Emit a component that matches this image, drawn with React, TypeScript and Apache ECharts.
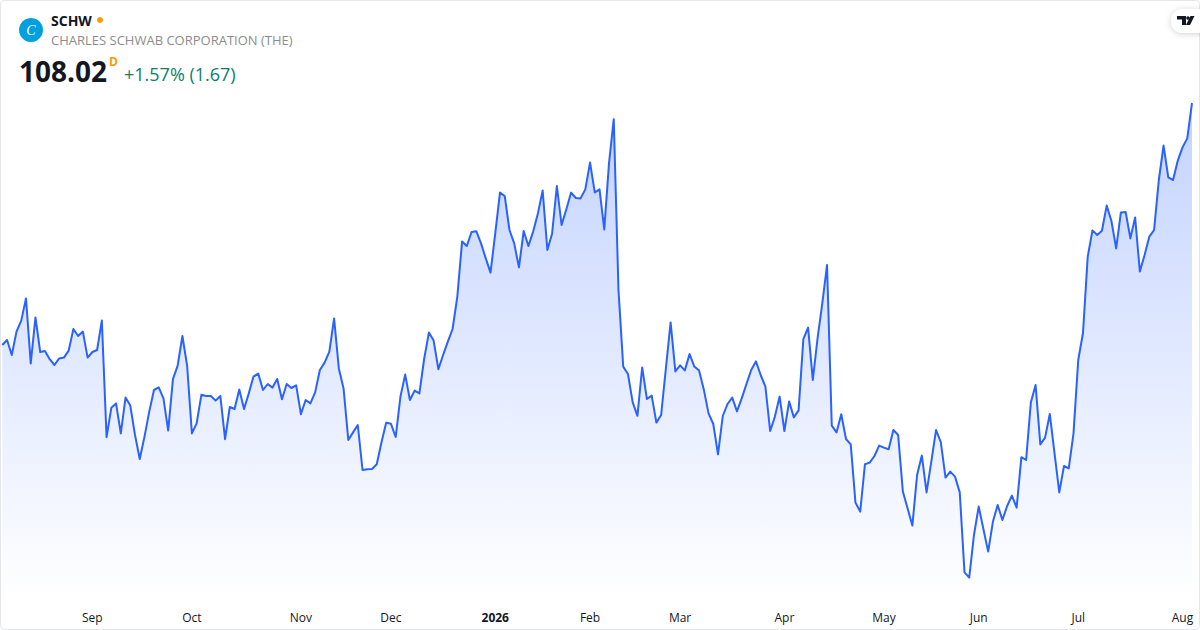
import React, { useEffect, useRef } from "react";
import * as echarts from "echarts";

const symbol = "SCHW";
const company = "CHARLES SCHWAB CORPORATION (THE)";
const lastPrice = "108.02";
const changeText = "+1.57% (1.67)";

const closes = [
  95.92, 96.17, 95.42, 96.59, 97.14, 98.25, 95.0, 97.3, 95.57, 95.62, 95.21, 94.92, 95.25, 95.29, 95.64, 96.72,
  96.37, 96.59, 95.29, 95.57, 95.67, 97.14, 91.31, 92.78, 93.0, 91.5, 93.29, 92.89, 91.42, 90.22, 91.34, 92.59,
  93.67, 93.8, 93.25, 91.64, 94.21, 94.89, 96.37, 94.87, 91.5, 92.0, 93.43, 93.37, 93.37, 93.14, 93.37, 91.21,
  92.82, 92.72, 93.7, 92.72, 93.5, 94.34, 94.49, 93.67, 93.97, 93.79, 94.22, 93.21, 93.97, 93.77, 93.9, 92.46,
  93.17, 93.0, 93.55, 94.67, 95.04, 95.59, 97.25, 94.75, 93.75, 91.17, 91.55, 91.92, 89.67, 89.71, 89.72, 89.96,
  91.06, 92.04, 91.98, 91.32, 93.34, 94.44, 93.17, 93.64, 93.5, 95.22, 96.54, 96.14, 94.71, 95.42, 96.09, 96.72,
  98.34, 101.09, 100.87, 101.57, 101.61, 101.0, 100.25, 99.54, 101.5, 103.54, 103.37, 101.67, 101.0, 99.8, 101.62, 100.87,
  101.59, 102.5, 103.64, 100.67, 101.5, 103.87, 101.92, 102.71, 103.54, 103.27, 103.25, 103.7, 105.04, 103.55, 103.7, 101.7,
  105.0, 107.21, 98.67, 94.84, 94.47, 93.05, 92.38, 94.8, 93.22, 93.39, 92.04, 92.42, 94.75, 97.05, 94.6, 94.9,
  94.65, 95.47, 94.84, 94.64, 93.7, 92.5, 91.97, 90.45, 92.37, 92.97, 93.29, 92.6, 93.25, 93.97, 94.67, 95.1,
  94.42, 93.84, 91.62, 92.34, 93.34, 91.62, 93.1, 92.3, 92.65, 96.21, 96.79, 94.17, 96.25, 98.0, 99.92, 91.89,
  91.55, 92.46, 91.22, 90.95, 88.04, 87.59, 89.96, 90.04, 90.37, 90.89, 90.79, 90.71, 91.67, 91.42, 88.59, 87.75,
  86.89, 89.42, 90.39, 88.55, 90.09, 91.67, 91.06, 89.29, 89.59, 89.34, 88.55, 84.55, 84.29, 86.42, 87.84, 86.71,
  85.59, 87.09, 87.92, 87.17, 87.87, 88.39, 87.79, 90.31, 90.17, 93.04, 93.92, 90.95, 91.29, 92.47, 90.5, 88.55,
  89.87, 89.75, 91.5, 95.17, 96.52, 100.34, 101.65, 101.42, 101.63, 102.89, 102.12, 100.75, 102.55, 102.57, 101.25, 102.3,
  99.59, 100.42, 101.34, 101.67, 104.17, 105.89, 104.3, 104.17, 105.14, 105.8, 106.25, 108.02,
];

const tickLabels = ["Sep", "Oct", "Nov", "Dec", "2026", "Feb", "Mar", "Apr", "May", "Jun", "Jul", "Aug"];
const tickSessions = [19, 40, 63, 82, 104, 124, 143, 165, 186, 206, 227, 249];
const sessions = closes.map((_, i) => String(i));

const FONT = '"Open Sans", "Noto Sans", sans-serif';

export default function App() {
  const ref = useRef<HTMLDivElement>(null);

  useEffect(() => {
    document.body.style.margin = "0";
    const chart = echarts.init(ref.current!, undefined, { renderer: "svg" });
    chart.setOption({
      animation: false,
      backgroundColor: "#ffffff",
      textStyle: { fontFamily: FONT },
      grid: { left: 2.3, right: 8, top: 3, bottom: 30, containLabel: false },
      xAxis: {
        type: "category",
        data: sessions,
        boundaryGap: false,
        axisLine: { show: false },
        axisTick: { show: false },
        splitLine: { show: false },
        axisLabel: {
          interval: (i: number) => tickSessions.includes(i),
          hideOverlap: false,
          margin: 11,
          fontFamily: FONT,
          fontSize: 12,
          color: "#131722",
          formatter: (_: string, i: number) => {
            const label = tickLabels[tickSessions.indexOf(i)] ?? "";
            return label === "2026" ? `{b|${label}}` : label;
          },
          rich: { b: { fontFamily: FONT, fontSize: 12, fontWeight: 700, color: "#131722" } },
        },
      },
      yAxis: {
        type: "value",
        min: 83.17,
        max: 113.02,
        show: false,
        splitLine: { show: false },
      },
      series: [
        {
          type: "line",
          data: closes,
          showSymbol: false,
          symbol: "none",
          smooth: false,
          lineStyle: { color: "#2962FF", width: 2, join: "round" },
          areaStyle: {
            origin: "start",
            opacity: 1,
            color: new echarts.graphic.LinearGradient(0, 0, 0, 1, [
              { offset: 0, color: "rgba(41,98,255,0.28)" },
              { offset: 1, color: "rgba(41,98,255,0)" },
            ]),
          },
        },
      ],
      graphic: [
        { type: "rect", silent: true, z: 10, shape: { x: 0.5, y: 0.5, width: 1199, height: 629, r: 4 }, style: { fill: "none", stroke: "#E4E6EA", lineWidth: 1 } },
        { type: "circle", z: 10, shape: { cx: 31, cy: 30, r: 12 }, style: { fill: "#00A0DF" } },
        { type: "text", z: 11, x: 31, y: 30, style: { text: "C", fill: "#ffffff", font: 'italic 14px "Liberation Serif", serif', align: "center", verticalAlign: "middle" } },
        { type: "text", z: 11, x: 51, y: 20.5, style: { text: symbol, fill: "#131722", font: `700 14px ${FONT}`, verticalAlign: "middle" } },
        { type: "circle", z: 11, shape: { cx: 100, cy: 20, r: 3 }, style: { fill: "#FF9800" } },
        { type: "text", z: 11, x: 51, y: 40, style: { text: company, fill: "#8C8C8C", font: `13px ${FONT}`, verticalAlign: "middle" } },
        { type: "text", z: 11, x: 19, y: 71, style: { text: lastPrice, fill: "#131722", font: `700 28px ${FONT}`, verticalAlign: "middle" } },
        { type: "text", z: 11, x: 109, y: 61.5, style: { text: "D", fill: "#FF9800", font: `700 12px ${FONT}`, verticalAlign: "middle" } },
        { type: "text", z: 11, x: 124, y: 74, style: { text: changeText, fill: "#0A7F6C", font: `18px ${FONT}`, verticalAlign: "middle" } },
        {
          type: "rect",
          z: 11,
          shape: { x: 1171, y: 9, width: 40, height: 24, r: 12 },
          style: { fill: "#ffffff", shadowBlur: 6, shadowColor: "rgba(0,0,0,0.18)", shadowOffsetY: 1 },
        },
        { type: "polygon", z: 12, shape: { points: [[1177, 16], [1186, 16], [1186, 25], [1182, 25], [1182, 19.5], [1177, 19.5]] }, style: { fill: "#131722" } },
        { type: "circle", z: 12, shape: { cx: 1188, cy: 18, r: 1.8 }, style: { fill: "#131722" } },
        { type: "polygon", z: 12, shape: { points: [[1190.5, 16], [1194.5, 16], [1190, 25], [1186, 25]] }, style: { fill: "#131722" } },
      ],
    });
    return () => chart.dispose();
  }, []);

  return <div ref={ref} style={{ position: "absolute", left: 0, top: 0, width: 1200, height: 630 }} />;
}
